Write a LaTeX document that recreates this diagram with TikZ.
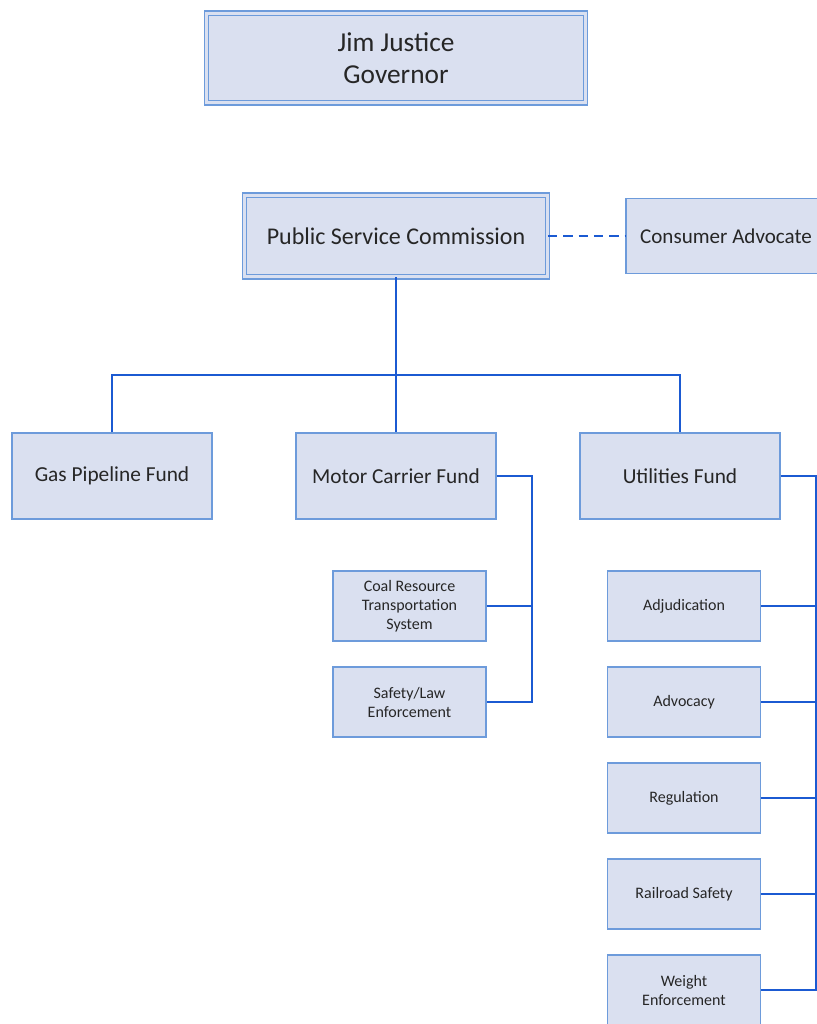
\documentclass[tikz,border=0pt]{standalone}
\usepackage{fontspec}
\setmainfont{Carlito}
\usetikzlibrary{positioning, shadows}
\definecolor{lavanda}{HTML}{DAE0F0}
\definecolor{borde}{HTML}{6D9BDB}
\definecolor{linea}{HTML}{1B5AD2}
\definecolor{texto}{HTML}{262626}
\tikzset{
  jefe/.style={rectangle, draw=borde, double=lavanda, double distance=2.4pt, line width=0.8pt,
               fill=lavanda, text=texto, align=center, font=\fontsize{20.5}{24}\selectfont},
  fondo/.style={rectangle, draw=borde, line width=0.9pt, fill=lavanda, text=texto, align=center,
                minimum width=150pt, minimum height=64.5pt, font=\fontsize{16}{19}\selectfont},
  asesor/.style={rectangle, draw=borde, line width=0.9pt, fill=lavanda, text=texto, align=center,
                 minimum width=150pt, minimum height=56.25pt, font=\fontsize{15.8}{19}\selectfont},
  unidad/.style={rectangle, draw=borde, line width=0.9pt, fill=lavanda, text=texto, align=center,
                 minimum width=114.75pt, minimum height=52.5pt, font=\fontsize{12}{14.25}\selectfont},
  conector/.style={line width=1.9pt, color=linea}
}
\begin{document}
\begin{tikzpicture}[x=0.75pt, y=-0.75pt, node distance=18.6pt]
  \useasboundingbox (0,0) rectangle (817,1024);
  % mando
  \node (gob) [jefe, minimum width=284pt, minimum height=67.3pt,
               drop shadow={opacity=0.25, shadow xshift=1.5pt, shadow yshift=-2pt}] at (396,58) {Jim Justice\\ Governor};
  \node (psc) [jefe, font=\fontsize{18}{21}\selectfont, minimum width=227pt, minimum height=61.3pt] at (396,236) {Public Service Commission};
  \node (consumidor) [asesor] at (726,236) {Consumer Advocate};
  % fondos
  \node (gas) [fondo] at (112,476) {Gas Pipeline Fund};
  \node (motor) [fondo] at (396,476) {Motor Carrier Fund};
  \node (util) [fondo] at (680,476) {Utilities Fund};
  % unidades
  \node (carbon) [unidad] at (409.5,606) {Coal Resource\\ Transportation\\ System};
  \node (seguridad) [unidad, below=of carbon] {Safety/Law\\ Enforcement};
  \node (adj) [unidad] at (684,606) {Adjudication};
  \node (adv) [unidad, below=of adj] {Advocacy};
  \node (reg) [unidad, below=of adv] {Regulation};
  \node (rail) [unidad, below=of reg] {Railroad Safety};
  \node (peso) [unidad, below=of rail] {Weight\\ Enforcement};
  % conectores
  \coordinate (bus) at (396,375);
  \coordinate (ramaM) at (532,476);
  \coordinate (ramaU) at (816,476);
  \draw [conector, dash pattern=on 7pt off 4.5pt] (psc.east) -- (consumidor.west);
  \draw [conector] (psc.south) -- (motor.north);
  \draw [conector] (gas.north) |- (bus) -| (util.north);
  \draw [conector] (motor.east) -- (ramaM) |- (seguridad.east);
  \draw [conector] (carbon.east) -- (carbon.east -| ramaM);
  \draw [conector] (util.east) -- (ramaU) |- (peso.east);
  \foreach \u in {adj, adv, reg, rail}
    \draw [conector] (\u.east) -- (\u.east -| ramaU);
\end{tikzpicture}
\end{document}
